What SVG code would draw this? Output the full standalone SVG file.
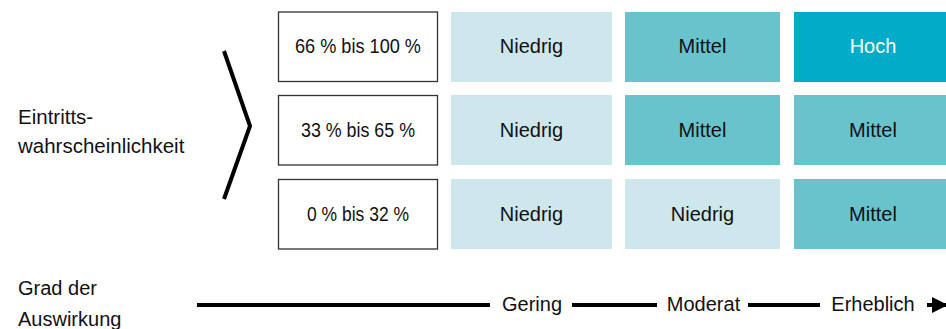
<svg xmlns="http://www.w3.org/2000/svg" width="946" height="329" viewBox="0 0 946 329">
<style>
text{font-family:"Liberation Sans",Arial,sans-serif;font-size:20px;fill:#111;}
.c{text-anchor:middle;}
.l{font-size:20.5px;}
.pct{fill:#fff;stroke:#333;stroke-width:1.3;}
.lo{fill:#cde7ec;}
.md{fill:#69c3cd;}
.hi{fill:#00acc8;}
.ax{stroke:#000;stroke-width:4;fill:none;}
</style>
<defs>
<marker id="ah" viewBox="0 0 10 10" refX="10" refY="5" markerWidth="4" markerHeight="4" markerUnits="strokeWidth" orient="auto">
<path d="M0,0 L10,5 L0,10 Z" fill="#000"/>
</marker>
</defs>
<rect width="946" height="329" fill="#fff"/>
<g id="label-eintritt">
<text class="l" x="18" y="124">Eintritts-</text>
<text class="l" x="18" y="153">wahrscheinlichkeit</text>
</g>
<g id="bracket"><polyline class="ax" points="224,51 250,126 224,199" stroke-width="3.5"/></g>
<g id="p-high"><rect class="pct" x="278.5" y="12" width="159" height="69.5"/><text class="c" x="358" y="53" textLength="126" lengthAdjust="spacingAndGlyphs">66 % bis 100 %</text></g>
<g id="p-mid"><rect class="pct" x="278.5" y="95.5" width="159" height="69.5"/><text class="c" x="358" y="137" textLength="114" lengthAdjust="spacingAndGlyphs">33 % bis 65 %</text></g>
<g id="p-low"><rect class="pct" x="278.5" y="179.5" width="159" height="69.5"/><text class="c" x="358" y="221" textLength="102" lengthAdjust="spacingAndGlyphs">0 % bis 32 %</text></g>
<g id="c11"><rect class="lo" x="451" y="12" width="161" height="70"/><text class="c" x="531.5" y="53">Niedrig</text></g>
<g id="c12"><rect class="md" x="625" y="12" width="155" height="70"/><text class="c" x="702.5" y="53">Mittel</text></g>
<g id="c13"><rect class="hi" x="794" y="12" width="158" height="70"/><text class="c" x="873" y="53" style="fill:#fff">Hoch</text></g>
<g id="c21"><rect class="lo" x="451" y="95" width="161" height="70"/><text class="c" x="531.5" y="137">Niedrig</text></g>
<g id="c22"><rect class="md" x="625" y="95" width="155" height="70"/><text class="c" x="702.5" y="137">Mittel</text></g>
<g id="c23"><rect class="md" x="794" y="95" width="158" height="70"/><text class="c" x="873" y="137">Mittel</text></g>
<g id="c31"><rect class="lo" x="451" y="179" width="161" height="70"/><text class="c" x="531.5" y="221">Niedrig</text></g>
<g id="c32"><rect class="lo" x="625" y="179" width="155" height="70"/><text class="c" x="702.5" y="221">Niedrig</text></g>
<g id="c33"><rect class="md" x="794" y="179" width="158" height="70"/><text class="c" x="873" y="221">Mittel</text></g>
<g id="label-grad">
<text x="18" y="295">Grad der</text>
<text x="18" y="326">Auswirkung</text>
</g>
<g id="connectors">
<line class="ax" x1="197" y1="305" x2="490" y2="305"/>
<line class="ax" x1="572" y1="305" x2="657" y2="305"/>
<line class="ax" x1="748" y1="305" x2="820" y2="305"/>
<line class="ax" x1="927" y1="305" x2="948" y2="305" marker-end="url(#ah)"/>
</g>
<g id="axis-labels">
<text class="c" x="532" y="311">Gering</text>
<text class="c" x="703.5" y="311">Moderat</text>
<text class="c" x="873" y="311">Erheblich</text>
</g>
</svg>
